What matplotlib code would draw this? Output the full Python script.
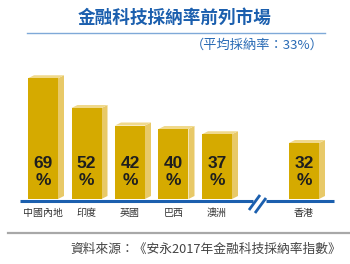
import numpy as np
import matplotlib
matplotlib.use("Agg")
import matplotlib.pyplot as plt
from matplotlib.patches import Polygon

plt.rcParams['font.family'] = ['Noto Sans CJK TC', 'DejaVu Sans']

# data
markets = ['中國內地', '印度', '英國', '巴西', '澳洲', '香港']
rates = [69, 52, 42, 40, 37, 32]
title = '金融科技採納率前列市場'
subtitle = '（平均採納率：33%）'
source = '資料來源：《安永2017年金融科技採納率指數》'

# Hong Kong sits after the axis break
positions = np.array([0, 1, 2, 3, 4, 6])

front = '#d5aa00'
side = '#e8c968'
top = '#f0d98c'
blue = '#1b5fae'

fig = plt.figure(figsize=(3.5, 2.64), dpi=100)
W, H = 350, 264

# axes mapped so that one category step is ~43.5 px, one percent ~1.75 px
px_step = 43.5
px_unit = 1.75
x0_px = 43
base_px = 199
ax = fig.add_axes([0, 0, 1, 1])
ax.set_xlim(-x0_px / px_step, (W - x0_px) / px_step)
ax.set_ylim(-(H - base_px) / px_unit, base_px / px_unit)
ax.axis('off')

bw = 30 / px_step
dx = 6 / px_step
dy = 3 / px_unit

bars = ax.bar(positions, rates, width=bw, color=front, zorder=2)
for b, v in zip(bars, rates):
    x1 = b.get_x()
    x2 = x1 + b.get_width()
    ax.add_patch(Polygon([(x2, 0), (x2, v), (x2 + dx, v + dy), (x2 + dx, dy)],
                         closed=True, facecolor=side, edgecolor='none', zorder=1))
    ax.add_patch(Polygon([(x1, v), (x2, v), (x2 + dx, v + dy), (x1 + dx, v + dy)],
                         closed=True, facecolor=top, edgecolor='none', zorder=1))

for p, v, m in zip(positions, rates, markets):
    ax.text(p, 20.5, f'{v}', ha='center', va='center', fontsize=12.5,
            fontweight='bold', color='#1e1e1e', family=['Liberation Sans', 'DejaVu Sans'], zorder=3)
    ax.text(p, 10.8, '%', ha='center', va='center', fontsize=12.5,
            fontweight='bold', color='#1e1e1e', family=['Liberation Sans', 'DejaVu Sans'], zorder=3)
    ax.text(p, -7.9, m, ha='center', va='center', fontsize=7.2, color='#333333')

# baseline with break
left_end = (20 - x0_px) / px_step
right_end = (334 - x0_px) / px_step
gap_a = (253 - x0_px) / px_step
gap_b = (266 - x0_px) / px_step
ax.plot([left_end, gap_a], [-1, -1], color=blue, lw=2.2, solid_capstyle='butt', zorder=4)
ax.plot([gap_b, right_end], [-1, -1], color=blue, lw=2.2, solid_capstyle='butt', zorder=4)
for off in (0, 6):
    xs = np.array([249 + off, 260 + off]) - x0_px
    ax.plot(xs / px_step, [(base_px - 210 - off / 2) / px_unit, (base_px - 195 - off / 2) / px_unit],
            color=blue, lw=2.0, solid_capstyle='butt', zorder=5)

# header
fig.text(175 / W, 1 - 18 / H, title, ha='center', va='center', fontsize=12.7,
         fontweight='bold', color=blue)
fig.add_artist(plt.Line2D([27 / W, 325 / W], [1 - 33 / H, 1 - 33 / H],
                          color='#7fa9d8', lw=1.0))
fig.text(324 / W, 1 - 45 / H, subtitle, ha='right', va='center', fontsize=9.5, color='#2a6bb5')

# footer
fig.add_artist(plt.Line2D([8 / W, 1], [1 - 233 / H, 1 - 233 / H], color='#a8a8a8', lw=1.6))
fig.text(341 / W, 1 - 249 / H, source, ha='right', va='center', fontsize=9.2, color='#444444')

fig.savefig('out.png', dpi=100)
